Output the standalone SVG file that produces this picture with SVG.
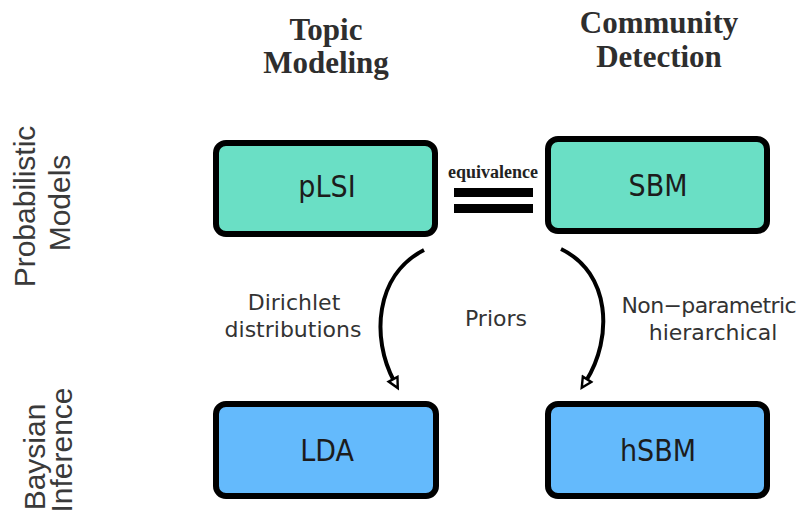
<svg xmlns="http://www.w3.org/2000/svg" width="797" height="515" viewBox="0 0 797 515">
  <defs>
    <style>
      .col-title { font-family: "Liberation Serif", "Times New Roman", serif; font-weight: bold; font-size: 31px; fill: #2e2e2e; text-anchor: middle; }
      .row-title { font-family: "Liberation Sans", Arial, sans-serif; font-size: 30px; fill: #3a3a3a; text-anchor: middle; }
      .box { stroke: #000; stroke-width: 6; }
      .model { fill: #6ADFC5; }
      .bayes { fill: #64BAFC; }
      .node-label { font-family: "DejaVu Sans Condensed", "DejaVu Sans", sans-serif; font-stretch: condensed; font-size: 30px; fill: #1c1c1c; text-anchor: middle; }
      .edge { fill: none; stroke: #000; stroke-width: 4; }
      .edge-label { font-family: "DejaVu Sans", sans-serif; font-size: 22px; fill: #333; text-anchor: middle; }
      .eq-label { font-family: "Liberation Serif", "Times New Roman", serif; font-weight: bold; font-size: 18px; fill: #222; text-anchor: middle; }
    </style>
    <marker id="open-arrow" markerUnits="userSpaceOnUse" viewBox="-2 -2 15 14" markerWidth="15" markerHeight="14" refX="2" refY="5" orient="auto">
      <path d="M0,0 L10,5 L0,10 Z" fill="#fff" stroke="#000" stroke-width="2.4"/>
    </marker>
  </defs>

  <!-- column headings -->
  <g id="col-topic-modeling">
    <text class="col-title" x="326" y="40">Topic</text>
    <text class="col-title" x="326" y="73">Modeling</text>
  </g>
  <g id="col-community-detection">
    <text class="col-title" x="659" y="33">Community</text>
    <text class="col-title" x="659" y="67">Detection</text>
  </g>

  <!-- row headings (rotated) -->
  <g id="row-probabilistic-models">
    <text class="row-title" transform="translate(35,206.5) rotate(-90)">Probabilistic</text>
    <text class="row-title" transform="translate(70,203) rotate(-90)">Models</text>
  </g>
  <g id="row-bayesian-inference">
    <text class="row-title" transform="translate(45,457) rotate(-90)">Baysian</text>
    <text class="row-title" transform="translate(72,450) rotate(-90)">Inference</text>
  </g>

  <!-- nodes -->
  <g id="node-plsi">
    <rect class="box model" x="216" y="143" width="219" height="91" rx="10"/>
    <text class="node-label" x="327" y="197">pLSI</text>
  </g>
  <g id="node-sbm">
    <rect class="box model" x="548" y="139" width="219" height="92" rx="10"/>
    <text class="node-label" x="658" y="196">SBM</text>
  </g>
  <g id="node-lda">
    <rect class="box bayes" x="216" y="404" width="220" height="92" rx="10"/>
    <text class="node-label" x="327" y="461">LDA</text>
  </g>
  <g id="node-hsbm">
    <rect class="box bayes" x="548" y="404" width="219" height="92" rx="10"/>
    <text class="node-label" x="658" y="461">hSBM</text>
  </g>

  <!-- connectors -->
  <g id="connectors">
    <g id="edge-plsi-sbm">
      <text class="eq-label" x="493" y="178">equivalence</text>
      <rect x="454" y="188" width="79" height="9" fill="#000"/>
      <rect x="454" y="204" width="79" height="9" fill="#000"/>
    </g>
    <g id="edge-plsi-lda">
      <path class="edge" d="M424,250 C375,275 371,338 394,381" marker-end="url(#open-arrow)"/>
      <text class="edge-label" x="294" y="310">Dirichlet</text>
      <text class="edge-label" x="293" y="337">distributions</text>
    </g>
    <g id="edge-sbm-hsbm">
      <path class="edge" d="M561,249 C611,273 613,338 586,381" marker-end="url(#open-arrow)"/>
      <text class="edge-label" x="709" y="313" font-size="20.5" textLength="175">Non−parametric</text>
      <text class="edge-label" x="713" y="340" font-size="20.5">hierarchical</text>
    </g>
    <text class="edge-label" x="496" y="326">Priors</text>
  </g>
</svg>
